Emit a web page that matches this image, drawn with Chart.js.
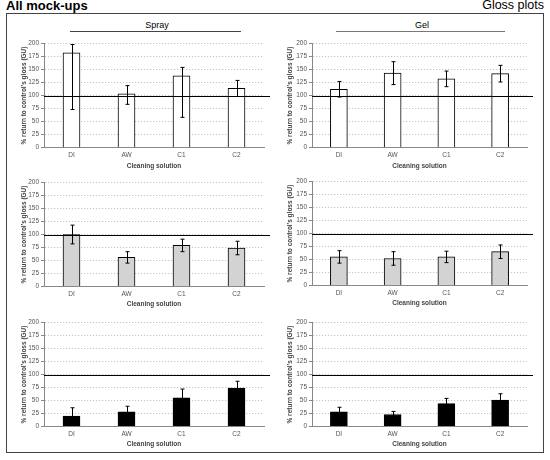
<!DOCTYPE html>
<html>
<head>
<meta charset="utf-8">
<script src="https://cdn.jsdelivr.net/npm/chart.js@4.4.0/dist/chart.umd.min.js"></script>
<style>
  body { margin: 0; width: 550px; height: 460px; background: #fff; position: relative; overflow: hidden;
         font-family: "Liberation Sans", Arial, sans-serif; }
  #frame { position: absolute; left: 6px; top: 13px; width: 538px; height: 440px; border: 1px solid #444; box-sizing: border-box; }
  .head { position: absolute; top: -2px; white-space: nowrap; color: #000; }
  #allMock { left: 6px; font-size: 13px; font-weight: bold; }
  #gloss { right: 6px; font-size: 12.5px; }
  .grp { position: absolute; top: 20px; font-size: 9px; text-align: center; width: 100px; }
  .grpLine { position: absolute; top: 31px; height: 0; }
  canvas { position: absolute; }
</style>
</head>
<body>
<div id="frame"></div>
<div class="head" id="allMock">All mock-ups</div>
<div class="head" id="gloss">Gloss plots</div>
<div class="grp" style="left:107px">Spray</div>
<div class="grpLine" style="left:70px;width:171px;border-top:1.3px solid #444"></div>
<div class="grp" style="left:372px">Gel</div>
<div class="grpLine" style="left:336px;width:169px;border-top:1.3px solid #777"></div>

<canvas id="sprayTopC" width="261" height="135" style="left:9px;top:35px"></canvas>
<canvas id="gelTopC" width="257" height="135" style="left:277px;top:35px"></canvas>
<canvas id="sprayMidC" width="261" height="134" style="left:9px;top:174px"></canvas>
<canvas id="gelMidC" width="257" height="134" style="left:277px;top:173px"></canvas>
<canvas id="sprayLowC" width="261" height="134" style="left:9px;top:314px"></canvas>
<canvas id="gelLowC" width="257" height="134" style="left:277px;top:314px"></canvas>

<script>
const categories = ["DI", "AW", "C1", "C2"];
const yTicks = [0, 25, 50, 75, 100, 125, 150, 175, 200];
const refLine = 100;

// top row (white bars)
const sprayTop = [182, 103, 138, 114];
const sprayTopUp = [16, 16, 16, 15];
const sprayTopDown = [109, 20, 80, 16];
const gelTop = [112, 143, 132, 142];
const gelTopErr = [15, 22, 15, 16];

// middle row (grey bars)
const sprayMid = [100, 56, 79, 74];
const sprayMidErr = [18, 11, 12, 13];
const gelMid = [55, 52, 55, 65];
const gelMidErr = [12, 13, 11, 13];

// bottom row (black bars)
const sprayLow = [20, 28, 55, 74];
const sprayLowErr = [16, 11, 17, 13];
const gelLow = [28, 23, 44, 51];
const gelLowErr = [9, 6, 10, 12];

const FONT = "'Liberation Sans', Arial, sans-serif";

// reference line at 100 plus error bars
const extrasPlugin = {
  id: "extras",
  afterDatasetsDraw(chart, args, opts) {
    const ctx = chart.ctx;
    const y = chart.scales.y;
    const area = chart.chartArea;
    const vals = chart.data.datasets[0].data;
    ctx.save();
    ctx.strokeStyle = "#000";
    ctx.lineWidth = 1;
    chart.getDatasetMeta(0).data.forEach((bar, i) => {
      const x = Math.round(bar.x) + 0.5;
      const top = y.getPixelForValue(vals[i] + opts.up[i]);
      const bot = y.getPixelForValue(vals[i] - opts.down[i]);
      ctx.beginPath();
      ctx.moveTo(x, top); ctx.lineTo(x, bot);
      ctx.moveTo(x - 2, top); ctx.lineTo(x + 2, top);
      ctx.moveTo(x - 2, bot); ctx.lineTo(x + 2, bot);
      ctx.stroke();
    });
    const y100 = Math.round(y.getPixelForValue(refLine)) + 0.5;
    ctx.beginPath();
    ctx.moveTo(area.left, y100);
    ctx.lineTo(area.right + 6, y100);
    ctx.stroke();
    ctx.restore();
  }
};

function makePanel(id, values, up, down, fill, box) {
  new Chart(document.getElementById(id), {
    type: "bar",
    data: {
      labels: categories,
      datasets: [{ data: values, backgroundColor: fill, borderColor: "#000", borderWidth: 1, barThickness: 17 }]
    },
    options: {
      responsive: false,
      animation: false,
      layout: { padding: { top: 8.5, right: box.padRight, left: 0, bottom: 0 } },
      plugins: { legend: { display: false }, tooltip: { enabled: false }, extras: { up: up, down: down } },
      scales: {
        x: {
          grid: { display: false, drawTicks: false },
          border: { color: "#888" },
          ticks: { color: "#555", padding: 4, font: { family: FONT, size: 6.5 } },
          title: { display: true, text: "Cleaning solution", color: "#444", padding: 0,
                   font: { family: FONT, size: 6.5, weight: "bold" } },
          afterFit: a => { a.height = box.xHeight; }
        },
        y: {
          min: 0, max: 200,
          afterBuildTicks: a => { a.ticks = yTicks.map(v => ({ value: v })); },
          ticks: { color: "#555", padding: 2, font: { family: FONT, size: 6.5 } },
          grid: { color: "#c4c4c4", tickColor: "#888", tickLength: 3 },
          border: { color: "#888", dash: [1.2, 1.8] },
          title: { display: true, text: "% return to control's gloss (GU)", color: "#444",
                   padding: { top: box.titlePad, bottom: 0 },
                   font: { family: FONT, size: 6.5, weight: "bold" } },
          afterFit: a => { a.width = 35; }
        }
      }
    },
    plugins: [extrasPlugin]
  });
}

const leftTop = { padRight: 6, xHeight: 22.5, titlePad: 11 };
const rightTop = { padRight: 7, xHeight: 22.5, titlePad: 9 };
const leftRow = { padRight: 6, xHeight: 21.5, titlePad: 11 };
const rightRow = { padRight: 7, xHeight: 21.5, titlePad: 9 };

makePanel("sprayTopC", sprayTop, sprayTopUp, sprayTopDown, "#ffffff", leftTop);
makePanel("gelTopC", gelTop, gelTopErr, gelTopErr, "#ffffff", rightTop);
makePanel("sprayMidC", sprayMid, sprayMidErr, sprayMidErr, "#d3d3d3", leftRow);
makePanel("gelMidC", gelMid, gelMidErr, gelMidErr, "#d3d3d3", rightRow);
makePanel("sprayLowC", sprayLow, sprayLowErr, sprayLowErr, "#000000", leftRow);
makePanel("gelLowC", gelLow, gelLowErr, gelLowErr, "#000000", rightRow);
</script>
</body>
</html>
